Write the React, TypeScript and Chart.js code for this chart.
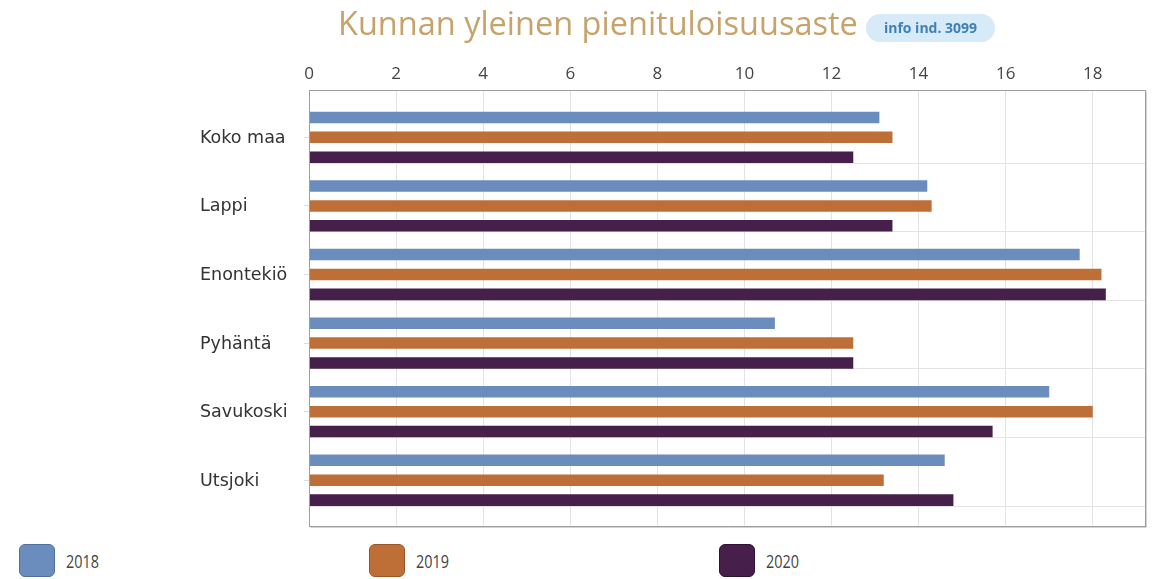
import React, { useEffect, useRef } from "react";
import { Chart, registerables } from "chart.js";

Chart.register(...registerables);

const titleText = "Kunnan yleinen pienituloisuusaste";
const badgeText = "info ind. 3099";
const categories = ["Koko maa", "Lappi", "Enontekiö", "Pyhäntä", "Savukoski", "Utsjoki"];
const years = ["2018", "2019", "2020"];
const values2018 = [13.1, 14.2, 17.7, 10.7, 17.0, 14.6];
const values2019 = [13.4, 14.3, 18.2, 12.5, 18.0, 13.2];
const values2020 = [12.5, 13.4, 18.3, 12.5, 15.7, 14.8];
const xTickValues = [0, 2, 4, 6, 8, 10, 12, 14, 16, 18];
const seriesColors = ["#6b8dbd", "#be6f37", "#461f4b"];
const seriesBorders = ["#4f6f9c", "#9a5526", "#2e1232"];

const allSeries = [values2018, values2019, values2020];

const framePlugin = {
  id: "frame",
  afterDraw(chart: any) {
    const { ctx, chartArea } = chart;
    const { left, top, right, bottom } = chartArea;
    ctx.save();
    ctx.strokeStyle = "#d4d4d4";
    ctx.lineWidth = 1;
    ctx.beginPath();
    ctx.moveTo(Math.round(left) + 1.5, Math.round(bottom) + 1.5);
    ctx.lineTo(Math.round(right) + 1.5, Math.round(bottom) + 1.5);
    ctx.lineTo(Math.round(right) + 1.5, Math.round(top) + 1.5);
    ctx.stroke();
    ctx.strokeStyle = "#9e9e9e";
    ctx.strokeRect(Math.round(left) + 0.5, Math.round(top) + 0.5, Math.round(right - left), Math.round(bottom - top));
    ctx.restore();
  },
};

export default function App() {
  const canvasRef = useRef<HTMLCanvasElement | null>(null);

  useEffect(() => {
    const canvas = canvasRef.current;
    if (!canvas) return;
    const catFont = { family: "'DejaVu Sans', sans-serif", size: 17.5 };
    const tickFont = { family: "'Open Sans', sans-serif", size: 17 };
    const chart = new Chart(canvas, {
      type: "bar",
      data: {
        datasets: years.map((year, s) => ({
          label: year,
          data: allSeries[s].map((v, i) => ({ x: v, y: i })),
          backgroundColor: seriesColors[s],
          borderWidth: 0,
          categoryPercentage: 0.87,
          barPercentage: 0.58,
          xAxisID: "x",
          yAxisID: "y",
        })),
      },
      plugins: [framePlugin],
      options: {
        indexAxis: "y",
        animation: false,
        responsive: false,
        devicePixelRatio: 1,
        layout: { padding: { left: 200, top: 60, right: 8, bottom: 12 } },
        plugins: { legend: { display: false }, tooltip: { enabled: false } },
        scales: {
          x: {
            type: "linear",
            position: "top",
            min: 0,
            max: 19.2,
            offset: false,
            afterBuildTicks: (s: any) => {
              s.ticks = xTickValues.map((v) => ({ value: v }));
            },
            afterFit: (s: any) => {
              s.height = 30;
            },
            ticks: { font: tickFont, color: "#444", padding: 6 },
            grid: { color: "#e3e3e3", drawTicks: false, offset: false },
            border: { display: false },
          },
          y: {
            type: "linear",
            position: "left",
            reverse: true,
            offset: false,
            bounds: "data",
            min: -0.69,
            max: 5.66,
            afterBuildTicks: (s: any) => {
              s.ticks = categories.map((_, i) => ({ value: i }));
            },
            afterFit: (s: any) => {
              s.width = 109;
            },
            ticks: {
              callback: (v: any) => categories[Math.round(v)] ?? "",
              crossAlign: "far",
              font: catFont,
              color: "#333",
              padding: 4,
              labelOffset: 1,
            },
            grid: { drawOnChartArea: false, drawTicks: true, tickLength: 5, color: "#dcdcdc", offset: false },
            border: { display: false },
          },
          y2: {
            type: "linear",
            position: "left",
            reverse: true,
            offset: false,
            bounds: "data",
            min: -0.69,
            max: 5.66,
            afterBuildTicks: (s: any) => {
              s.ticks = categories.map((_, i) => ({ value: i + 0.376 }));
            },
            afterFit: (s: any) => {
              s.width = 0;
            },
            ticks: { display: false },
            grid: { color: "#e3e3e3", drawTicks: false, offset: false },
            border: { display: false },
          },
        },
      },
    } as any);
    return () => chart.destroy();
  }, []);

  const legendLefts = [19, 369, 719];

  return (
    <div style={{ position: "fixed", left: 0, top: 0, width: 1153, height: 579, background: "#fff", overflow: "hidden" }}>
      <canvas ref={canvasRef} width={1153} height={540} style={{ position: "absolute", left: 0, top: 0, width: 1153, height: 540 }} />
      <div
        style={{
          position: "absolute",
          left: 338,
          top: 0,
          fontFamily: "'Open Sans', sans-serif",
          fontSize: 32.5,
          lineHeight: "46px",
          color: "#c5a36b",
          whiteSpace: "nowrap",
        }}
      >
        {titleText}
      </div>
      <div
        style={{
          position: "absolute",
          left: 866,
          top: 14,
          width: 129,
          height: 28,
          borderRadius: 14,
          background: "#d6eaf8",
          color: "#3f80b8",
          fontFamily: "'Open Sans', sans-serif",
          fontWeight: 700,
          fontSize: 14,
          lineHeight: "28px",
          textAlign: "center",
          whiteSpace: "nowrap",
        }}
      >
        {badgeText}
      </div>
      {years.map((y, i) => (
        <div key={y} style={{ position: "absolute", left: legendLefts[i], top: 544, height: 33, display: "flex", alignItems: "center" }}>
          <div
            style={{
              width: 36,
              height: 33,
              boxSizing: "border-box",
              borderRadius: 6,
              background: seriesColors[i],
              border: `1px solid ${seriesBorders[i]}`,
            }}
          />
          <span
            style={{
              marginLeft: 11,
              display: "inline-block",
              fontFamily: "'Open Sans', sans-serif",
              fontSize: 18,
              color: "#444",
              transform: "scaleX(0.8)",
              transformOrigin: "left center",
            }}
          >
            {y}
          </span>
        </div>
      ))}
    </div>
  );
}
